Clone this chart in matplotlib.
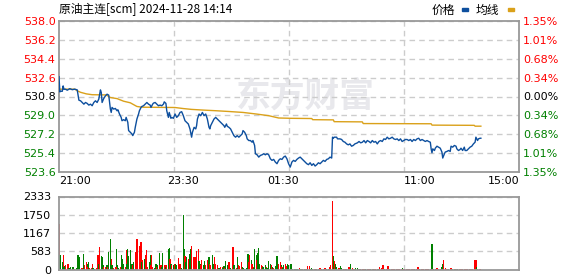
#! /usr/bin/env python3
# -*- coding: utf-8 -*-
"""
Intraday chart of the crude oil main contract: price, average and volume.
"""

import matplotlib
matplotlib.use("Agg")
import matplotlib.pyplot as plt

# trading minutes since 21:00 (night + day session, 555 in total)
session_minutes = 555
time_ticks = [0, 150, 270, 435, 555]
time_labels = ["21:00", "23:30", "01:30", "11:00", "15:00"]

price_ticks = [523.6, 525.4, 527.2, 529.0, 530.8, 532.6, 534.4, 536.2, 538.0]
pct_labels = ["1.35%", "1.01%", "0.68%", "0.34%", "0.00%", "0.34%", "0.68%", "1.01%", "1.35%"]
vol_ticks = [0, 583, 1167, 1750, 2333]

price_minute = [
    0, 1, 2, 4, 5, 6, 8, 10, 13, 16, 19, 22, 24, 26, 28, 30, 32, 34, 36, 38,
    40, 42, 44, 46, 48, 49, 50, 51, 52, 54, 56, 58, 60, 61, 62, 63, 64, 66, 68, 70,
    71, 73, 75, 76, 78, 80, 81, 83, 84, 86, 88, 89, 91, 92, 94, 96, 97, 99, 100, 102,
    104, 106, 108, 110, 111, 113, 114, 116, 118, 120, 122, 124, 126, 127, 129, 130, 132, 133, 135, 136,
    138, 140, 142, 144, 146, 148, 150, 152, 154, 156, 158, 160, 161, 163, 165, 166, 167, 169, 171, 173,
    175, 177, 179, 181, 182, 183, 185, 187, 189, 191, 193, 195, 197, 199, 200, 202, 203, 205, 207, 209,
    211, 213, 215, 217, 219, 221, 222, 224, 226, 227, 229, 231, 233, 234, 236, 237, 239, 241, 243, 245,
    247, 249, 251, 253, 255, 257, 259, 261, 263, 265, 267, 269, 271, 273, 275, 277, 279, 281, 283, 285,
    287, 289, 291, 293, 295, 297, 299, 301, 303, 305, 307, 309, 311, 313, 315, 317, 319, 321, 323, 325,
    327, 329, 330, 331, 332, 335, 336, 339, 341, 343, 345, 347, 349, 351, 353, 355, 357, 360, 362, 364,
    366, 368, 370, 372, 374, 376, 378, 380, 382, 384, 386, 388, 390, 392, 394, 396, 398, 400, 402, 404,
    406, 408, 410, 412, 414, 416, 418, 420, 422, 424, 426, 428, 430, 432, 434, 436, 438, 440, 442, 444,
    446, 448, 449, 450, 451, 453, 454, 456, 458, 460, 462, 463, 465, 466, 468, 470, 472, 473, 475, 477,
    479, 480, 482, 484, 485, 487, 489, 490, 492, 494, 496, 498, 500, 502, 503, 505, 506, 508, 509,
]
price = [
    532.69, 531.24, 531.30, 531.30, 531.81, 531.49, 531.49, 531.40, 531.55, 531.45,
    531.50, 531.43, 530.45, 530.39, 530.23, 530.07, 530.23, 530.14, 529.98, 530.07,
    529.92, 530.23, 530.39, 530.23, 530.55, 531.02, 531.43, 531.18, 530.23, 530.61,
    530.86, 531.02, 530.93, 530.23, 529.60, 529.28, 529.76, 529.60, 529.66, 529.44,
    529.54, 529.13, 528.81, 528.49, 528.59, 528.49, 528.81, 528.34, 527.55, 527.39,
    527.23, 527.07, 527.39, 527.86, 528.65, 529.13, 529.44, 529.76, 529.85, 529.92,
    530.07, 530.23, 530.07, 529.98, 529.76, 530.07, 530.17, 530.23, 530.07, 529.92,
    529.98, 529.92, 530.07, 530.29, 530.14, 529.44, 528.81, 529.28, 528.72, 528.81,
    528.72, 529.13, 528.81, 528.97, 529.28, 529.35, 528.97, 528.49, 528.34, 528.18,
    527.71, 526.92, 527.39, 527.86, 527.71, 528.02, 528.65, 529.13, 528.97, 529.28,
    528.97, 529.13, 528.65, 527.86, 527.71, 528.02, 528.34, 528.65, 528.81, 528.65,
    528.49, 528.34, 528.18, 528.02, 527.86, 528.18, 527.96, 527.86, 527.71, 527.39,
    527.07, 526.92, 527.07, 526.92, 527.07, 527.23, 527.55, 527.39, 527.07, 526.76,
    526.60, 526.60, 526.44, 526.60, 526.13, 525.34, 525.24, 525.02, 525.18, 525.24,
    525.34, 525.24, 525.34, 525.24, 524.86, 524.71, 524.80, 524.55, 524.39, 524.71,
    524.86, 524.80, 525.02, 525.12, 524.86, 524.39, 524.07, 524.55, 524.71, 524.61,
    524.80, 524.93, 525.02, 524.86, 524.71, 524.55, 524.39, 524.30, 524.48, 524.23,
    524.39, 524.17, 524.30, 524.48, 524.39, 524.55, 524.71, 524.61, 524.80, 524.86,
    525.02, 524.93, 526.92, 526.82, 526.92, 526.92, 526.76, 526.76, 526.70, 526.51,
    526.44, 526.28, 526.19, 526.28, 526.06, 526.13, 526.28, 526.38, 526.51, 526.38,
    526.44, 526.60, 526.38, 526.60, 526.51, 526.38, 526.60, 526.44, 526.51, 526.28,
    526.51, 526.60, 526.51, 526.76, 526.70, 526.92, 526.76, 526.82, 526.92, 526.76,
    526.70, 526.76, 526.60, 526.76, 526.51, 526.60, 526.70, 526.70, 526.60, 526.70,
    526.51, 526.70, 526.60, 526.76, 526.82, 526.60, 526.70, 526.60, 526.51, 526.60,
    526.51, 526.44, 525.81, 525.43, 525.81, 525.65, 525.87, 526.06, 525.97, 525.87,
    525.50, 524.93, 525.34, 525.50, 525.56, 525.65, 525.56, 526.06, 525.97, 526.13,
    526.06, 525.81, 525.65, 525.75, 525.87, 525.65, 525.97, 525.65, 525.65, 525.81,
    525.97, 526.06, 526.28, 526.44, 526.92, 526.60, 526.76, 526.82, 526.82,
]

avg_minute = [0, 19, 22, 26, 33, 40, 57, 62, 70, 78, 86, 94, 100, 140, 150, 160, 175, 190,
              205, 222, 238, 253, 265, 280, 305, 306, 331, 332, 366, 367, 449, 450, 501, 502, 509]
avg_price = [531.50, 531.50, 531.35, 531.20, 531.05, 530.97, 530.95, 530.70, 530.60, 530.35,
             530.20, 529.85, 529.78, 529.75, 529.65, 529.57, 529.50, 529.44, 529.37, 529.28,
             529.13, 528.97, 528.75, 528.72, 528.70, 528.59, 528.57, 528.40, 528.38, 528.22,
             528.20, 528.07, 528.05, 527.97, 527.97]

vol_minute = [
    0, 1, 2, 4, 5, 6, 7, 8, 10, 11, 12, 13, 14, 16, 17, 18, 19, 21, 22, 23,
    24, 25, 27, 28, 29, 30, 31, 33, 34, 35, 36, 37, 39, 40, 41, 42, 43, 45, 46, 47,
    48, 49, 51, 52, 53, 54, 56, 57, 58, 59, 60, 62, 63, 64, 65, 66, 68, 69, 70, 71,
    72, 74, 75, 76, 77, 78, 80, 81, 82, 83, 84, 86, 87, 88, 89, 90, 92, 93, 94, 95,
    97, 98, 99, 100, 101, 103, 104, 105, 106, 107, 109, 110, 111, 112, 113, 115, 116, 117, 118, 119,
    121, 122, 123, 124, 125, 127, 128, 129, 130, 132, 133, 134, 135, 136, 138, 139, 140, 141,
    142, 144, 145, 146, 147, 148, 150, 151, 152, 153, 154, 156, 157, 158, 159, 160, 162, 163, 164, 165,
    166, 168, 169, 170, 171, 172, 174, 175, 176, 177, 179, 180, 181, 182, 183, 185, 186, 187, 188, 189,
    191, 192, 193, 194, 195, 197, 198, 199, 200, 201, 203, 204, 205, 206, 207, 209, 210, 211, 212, 214,
    215, 216, 217, 218, 220, 221, 222, 223, 224, 226, 227, 228, 229, 230, 232, 233, 234, 235, 236, 238,
    239, 240, 241, 242, 244, 245, 246, 247, 249, 250, 251, 252, 253, 255, 256, 257, 258, 259, 261, 262,
    263, 264, 265, 267, 268, 269, 270, 271, 273, 274, 275, 276, 277, 279, 280,
    281, 282, 284, 285, 286, 287, 288, 290, 291, 292, 293, 294, 296, 297, 298, 299, 300, 302, 303, 304,
    305, 306, 308, 309, 310, 311, 313, 314, 315, 316, 317, 319, 320, 321, 322, 323, 325, 326, 327, 328,
    330, 331, 332, 333, 334, 335, 337, 338, 339, 340, 341, 343, 344, 345, 346, 347, 349, 350, 351, 352,
    354, 355, 356, 357, 358, 360, 361, 362, 363, 364, 366, 367, 368, 369, 370, 372, 373, 374, 375, 376,
    378, 379, 380, 381, 382, 384, 385, 386, 387, 389, 390, 391, 392, 393, 395, 396, 397, 398, 399, 401,
    402, 403, 404, 405, 407, 408, 409, 410, 411, 413, 414, 415, 416, 417, 419,
    420, 421, 422, 423, 425, 426, 427, 428, 429, 431, 432, 433, 434, 435, 437, 438, 439, 440, 442, 443,
    444, 445, 446, 448, 449, 450, 451, 452, 454, 455, 456, 457, 458, 460, 461, 462, 463, 464, 466, 467,
    468, 469, 470, 472, 473, 474, 475, 477, 478, 479, 480, 481, 483, 484, 485, 486, 487, 489, 490, 491,
    492, 493, 495, 496, 497, 498, 499, 501, 502, 503, 504, 505, 507, 508,
]
volume = [
    1447, 454, 475, 238, 475, 76, 108, 130, 162, 184, 43, 30, 76, 30, 76, 30, 30, 43, 43, 454,
    184, 400, 43, 43, 43, 486, 130, 238, 184, 76, 238, 43, 43, 162, 43, 43, 30, 43, 76, 475,
    184, 724, 421, 400, 151, 76, 76, 43, 151, 76, 562, 972, 324, 130, 151, 43, 76, 670, 76, 130,
    43, 76, 454, 324, 324, 184, 76, 616, 184, 648, 432, 616, 43, 184, 130, 238, 508, 562, 972, 454,
    756, 648, 864, 238, 292, 346, 184, 454, 616, 76, 238, 454, 130, 454, 76, 43, 130, 184, 76, 130,
    540, 151, 130, 76, 540, 151, 130, 76, 130, 670, 691, 346, 184, 130, 130, 184, 184, 184,
    130, 367, 184, 76, 184, 43, 1750, 648, 432, 238, 400, 346, 508, 151, 648, 745, 400, 184, 400, 292,
    583, 648, 259, 184, 130, 292, 130, 108, 259, 130, 292, 400, 400, 184, 130, 454, 184, 76, 400, 184,
    151, 43, 30, 43, 76, 76, 43, 108, 43, 259, 43, 130, 238, 184, 43, 292, 724, 130, 76, 43,
    400, 130, 130, 108, 238, 76, 43, 30, 30, 43, 346, 508, 238, 454, 292, 184, 76, 43, 670, 454,
    292, 540, 691, 184, 130, 108, 76, 43, 130, 76, 43, 43, 259, 184, 130, 43, 76, 43, 108, 130,
    432, 130, 184, 238, 130, 76, 43, 130, 184, 108, 43, 184, 130, 130, 184,
    30, 30, 30, 30, 30, 30, 30, 43, 30, 30, 30, 30, 30, 30, 30, 30, 108, 108, 30, 30,
    43, 30, 30, 30, 30, 30, 30, 30, 43, 30, 30, 30, 30, 43, 30, 30, 30, 30, 76, 130,
    2182, 432, 259, 130, 184, 76, 43, 30, 43, 108, 43, 30, 30, 30, 30, 30, 30, 76, 30, 184,
    43, 30, 30, 30, 43, 43, 30, 30, 30, 30, 30, 30, 30, 30, 30, 30, 30, 30, 30, 30,
    30, 30, 30, 30, 30, 30, 30, 30, 76, 43, 108, 130, 30, 30, 30, 30, 108, 30, 30, 30,
    30, 30, 30, 30, 30, 30, 30, 30, 30, 30, 43, 30, 30, 30, 30,
    30, 30, 30, 30, 30, 30, 30, 30, 30, 30, 30, 76, 30, 30, 30, 30, 30, 30, 30, 30,
    30, 30, 30, 30, 76, 810, 30, 30, 30, 30, 43, 30, 30, 30, 30, 76, 162, 292, 43, 30,
    30, 30, 30, 30, 43, 30, 30, 30, 30, 30, 30, 30, 30, 30, 30, 30, 30, 30, 30, 30,
    30, 30, 30, 30, 30, 30, 30, 292, 292, 292, 76, 30, 30, 30,
]
# 1 = price up in that minute (red), 0 = down (green)
vol_up = [
    1, 0, 0, 0, 1, 0, 0, 1, 1, 1, 0, 1, 0, 1, 0, 1, 1, 0, 0, 0,
    0, 0, 1, 1, 1, 0, 1, 1, 0, 1, 0, 1, 1, 1, 0, 0, 0, 1, 1, 1,
    0, 1, 0, 0, 0, 1, 1, 0, 0, 1, 0, 0, 1, 0, 0, 1, 1, 0, 1, 0,
    0, 1, 0, 0, 0, 0, 1, 1, 0, 0, 0, 0, 0, 0, 1, 0, 1, 1, 1, 1,
    1, 0, 1, 0, 1, 0, 0, 1, 1, 1, 0, 0, 1, 1, 1, 0, 0, 0, 1, 0,
    0, 1, 1, 0, 0, 1, 1, 0, 1, 0, 0, 1, 0, 1, 0, 0, 1, 0,
    0, 1, 1, 1, 1, 0, 0, 0, 1, 0, 0, 1, 0, 0, 0, 1, 1, 1, 1, 1,
    1, 1, 0, 0, 1, 1, 0, 0, 0, 1, 1, 0, 0, 1, 1, 0, 0, 0, 1, 1,
    1, 0, 1, 0, 1, 1, 0, 0, 1, 0, 0, 0, 1, 1, 0, 0, 1, 0, 0, 1,
    0, 0, 1, 1, 1, 0, 0, 1, 0, 0, 0, 0, 1, 1, 0, 1, 1, 0, 0, 0,
    1, 0, 0, 0, 1, 1, 0, 0, 0, 1, 0, 0, 0, 0, 1, 1, 0, 1, 0, 1,
    0, 0, 1, 1, 0, 1, 0, 0, 1, 1, 1, 0, 0, 1, 0,
    0, 0, 0, 1, 0, 0, 0, 1, 0, 0, 0, 1, 0, 0, 1, 0, 1, 1, 1, 0,
    0, 0, 1, 1, 0, 1, 1, 1, 1, 1, 0, 1, 1, 1, 0, 0, 0, 1, 1, 1,
    1, 0, 1, 1, 0, 0, 1, 0, 1, 0, 0, 1, 1, 1, 0, 1, 1, 1, 1, 0,
    1, 1, 1, 1, 0, 0, 1, 1, 0, 1, 1, 0, 1, 1, 0, 1, 1, 1, 1, 0,
    1, 1, 0, 1, 1, 1, 1, 0, 1, 1, 1, 1, 1, 0, 1, 1, 1, 1, 1, 1,
    1, 1, 1, 1, 1, 1, 1, 1, 1, 1, 0, 1, 1, 1, 1,
    1, 1, 1, 1, 1, 1, 1, 1, 0, 1, 1, 1, 1, 1, 0, 1, 1, 1, 1, 1,
    1, 1, 1, 1, 0, 0, 1, 1, 1, 1, 1, 1, 1, 1, 1, 0, 0, 1, 1, 1,
    1, 1, 0, 1, 1, 0, 1, 0, 1, 0, 1, 0, 1, 0, 1, 1, 1, 1, 1, 1,
    1, 1, 1, 1, 1, 1, 1, 1, 1, 1, 0, 1, 1, 1,
]

RED = "#ff0000"
GREEN = "#008000"
GRID = "#cccccc"
SPINE = "#999999"
W, H = 578, 276

plt.rcParams["font.family"] = ["DejaVu Sans"]
cjk = ["Noto Sans CJK SC", "DejaVu Sans"]

fig = plt.figure(figsize=(W / 100, H / 100), dpi=100)
ax = fig.add_axes([59 / W, 1 - 172 / H, 460 / W, 151 / H])
axv = fig.add_axes([59 / W, 1 - 269.5 / H, 460 / W, 73 / H])

# gridlines sit at quarters of the session, labels at the real times
quarters = [session_minutes * q / 4 for q in (1, 2, 3)]
for a in (ax, axv):
    a.set_xlim(0, session_minutes)
    a.set_xticks(quarters, minor=True)
    a.grid(axis="x", which="minor", color=GRID, ls=(0, (4, 3)), lw=1)
    a.grid(axis="y", which="major", color=GRID, ls=(0, (4, 3)), lw=1)
    a.tick_params(which="both", length=0, labelsize=8)
    for s in a.spines.values():
        s.set_color(SPINE)
        s.set_linewidth(1.3)
    a.set_axisbelow(True)

# price panel
ax.set_ylim(price_ticks[0], price_ticks[-1])
ax.set_yticks(price_ticks)
ax.set_yticklabels([f"{p:.1f}" for p in price_ticks])
ax.tick_params(axis="y", pad=2.5)
mid = len(price_ticks) // 2
label_colors = [GREEN] * mid + ["black"] + [RED] * mid
for lab, c in zip(ax.get_yticklabels(), label_colors):
    lab.set_color(c)
ax.set_xticks(time_ticks)
ax.set_xticklabels(time_labels)
ax.tick_params(axis="x", pad=3)
xlabs = ax.get_xticklabels()
xlabs[0].set_ha("left")
xlabs[-1].set_ha("right")

ax.text(0.536, 0.50, "东方财富", transform=ax.transAxes, family=cjk,
        fontsize=25, fontweight="bold", color="#e8e8ec", ha="center", va="center", zorder=0)

ax.plot(avg_minute, avg_price, color="#daa11a", lw=1.0, zorder=2)
ax.plot(price_minute, price, color="#0d4f9e", lw=1.0, zorder=3)

axr = ax.twinx()
axr.set_ylim(price_ticks[0], price_ticks[-1])
axr.set_yticks(price_ticks)
axr.set_yticklabels(pct_labels)
axr.tick_params(length=0, labelsize=8, pad=3)
for s in axr.spines.values():
    s.set_visible(False)
for lab, c in zip(axr.get_yticklabels(), label_colors):
    lab.set_color(c)

# volume panel
axv.set_ylim(vol_ticks[0], vol_ticks[-1])
axv.set_yticks(vol_ticks)
axv.set_yticklabels([str(v) for v in vol_ticks])
axv.tick_params(axis="y", pad=5.5)
axv.set_xticks([])
bar_colors = [RED if u else GREEN for u in vol_up]
axv.bar(vol_minute, volume, width=1.5, color=bar_colors, linewidth=0,
        antialiased=False, zorder=2)

# header: title and legend
fig.text(59 / W, 1 - 9 / H, "原油主连[scm] 2024-11-28 14:14", family=cjk,
         fontsize=8.5, ha="left", va="center")
fig.text(432 / W, 1 - 10 / H, "价格", family=cjk, fontsize=8.5, ha="left", va="center")
fig.text(476 / W, 1 - 10 / H, "均线", family=cjk, fontsize=8.5, ha="left", va="center")
fig.patches.append(plt.Rectangle((462 / W, 1 - 11 / H), 6 / W, 3 / H,
                                 transform=fig.transFigure, color="#0d4f9e"))
fig.patches.append(plt.Rectangle((508 / W, 1 - 11 / H), 6 / W, 3 / H,
                                 transform=fig.transFigure, color="#daa11a"))

fig.savefig("out.png", dpi=100)
